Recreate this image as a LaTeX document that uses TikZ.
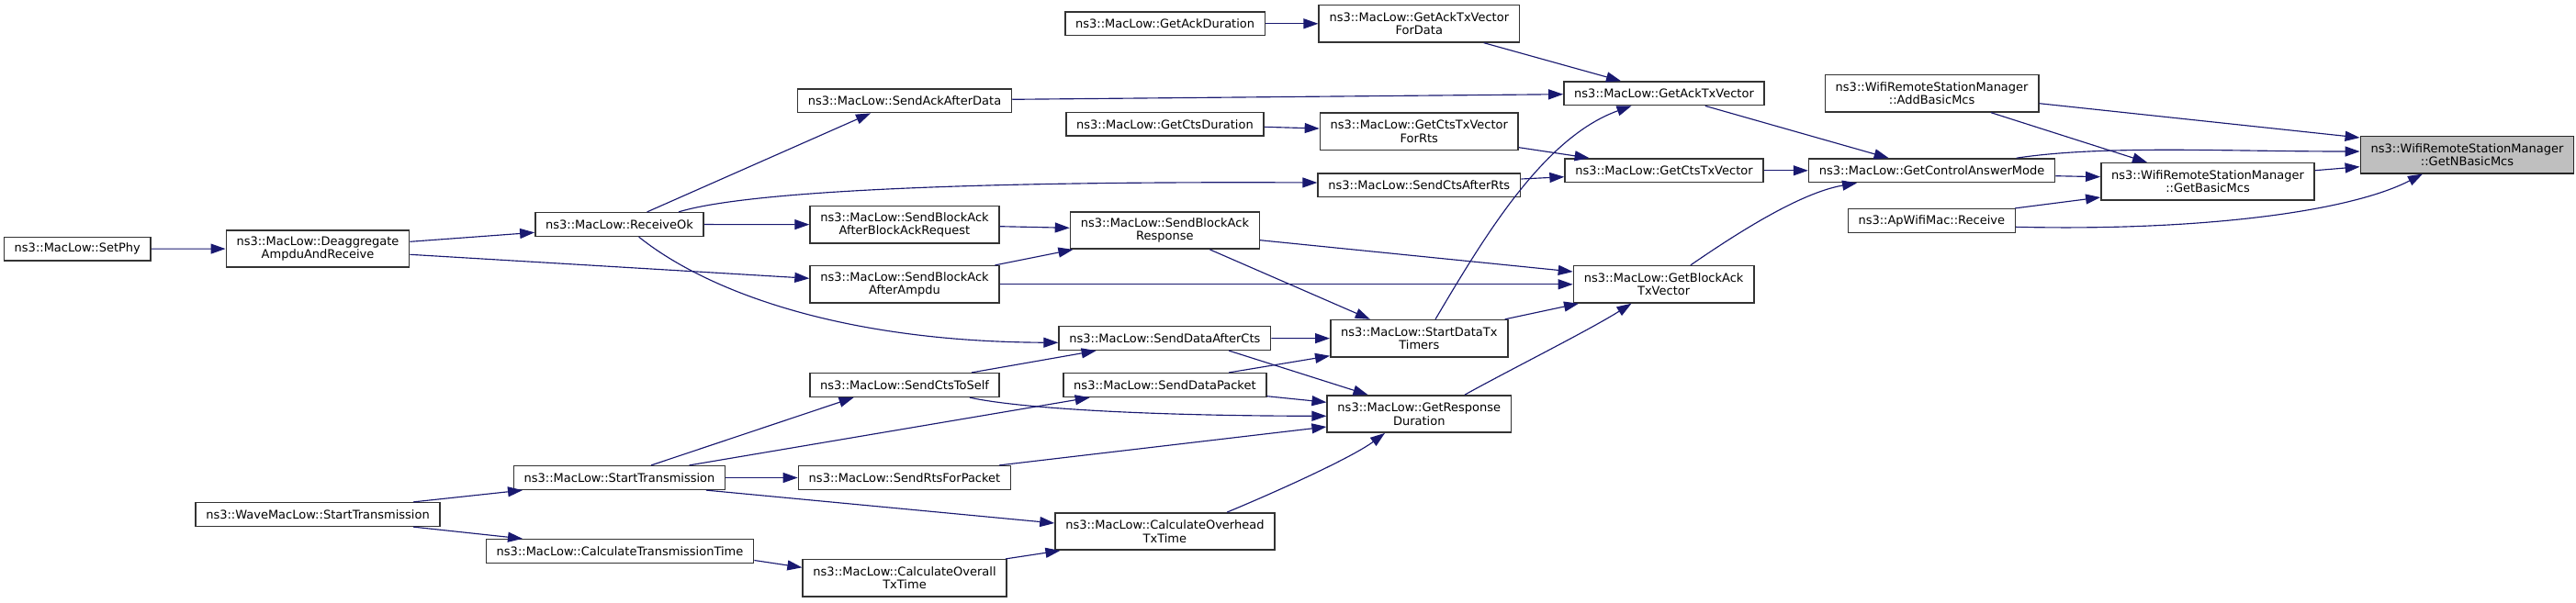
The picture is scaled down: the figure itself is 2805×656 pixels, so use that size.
\documentclass[tikz,border=0pt]{standalone}
\usepackage{fontspec}
\setmainfont{DejaVu Sans}
\usetikzlibrary{arrows.meta,calc}
\definecolor{bleunuit}{RGB}{25,25,112}
\begin{document}
\begin{tikzpicture}[x=0.02cm,y=-0.02cm]
\tikzstyle{fn} = [draw=black!80,line width=0.85pt,fill=white,inner xsep=0.226cm,inner ysep=0pt,minimum height=0.514cm,align=center,font=\fontsize{7.4}{8.3}\selectfont] %boite simple
\tikzstyle{fn2} = [fn,minimum height=0.806cm] %boite sur deux lignes
\tikzstyle{cible} = [fn2,fill=black!25,draw=black!85] %fonction appelee
\tikzstyle{appel} = [draw=bleunuit,line width=0.65pt,-{Triangle[length=0.32cm,width=0.22cm]}]

\useasboundingbox (0,0) rectangle (2805,656);

%fonctions
\draw(84.3,271.2)node[fn](setphy){ns3::MacLow::SetPhy};
\draw(346,271)node[fn2](deagg){ns3::MacLow::Deaggregate\\AmpduAndReceive};
\draw(346,560.5)node[fn](wave){ns3::WaveMacLow::StartTransmission};
\draw(674.5,244.5)node[fn](recv){ns3::MacLow::ReceiveOk};
\draw(674.5,520.5)node[fn](startt){ns3::MacLow::StartTransmission};
\draw(675,600.5)node[fn](calctt){ns3::MacLow::CalculateTransmissionTime};
\draw(1268.6,25.8)node[fn](ackdur){ns3::MacLow::GetAckDuration};
\draw(985,109.8)node[fn](saad){ns3::MacLow::SendAckAfterData};
\draw(1268.4,135.3)node[fn](ctsdur){ns3::MacLow::GetCtsDuration};
\draw(985,244.7)node[fn2](sbabar){ns3::MacLow::SendBlockAck\\AfterBlockAckRequest};
\draw(1268.4,251)node[fn2](sbar){ns3::MacLow::SendBlockAck\\Response};
\draw(985,309.8)node[fn2](sbaa){ns3::MacLow::SendBlockAck\\AfterAmpdu};
\draw(1268.4,368.5)node[fn](sdac){ns3::MacLow::SendDataAfterCts};
\draw(985,419.5)node[fn](scts){ns3::MacLow::SendCtsToSelf};
\draw(1268.4,419.5)node[fn](sdp){ns3::MacLow::SendDataPacket};
\draw(985,520.5)node[fn](srfp){ns3::MacLow::SendRtsForPacket};
\draw(1268.4,579)node[fn2](coh){ns3::MacLow::CalculateOverhead\\TxTime};
\draw(985,629.8)node[fn2](coa){ns3::MacLow::CalculateOverall\\TxTime};
\draw(1545.3,25.8)node[fn2](gatvfd){ns3::MacLow::GetAckTxVector\\ForData};
\draw(1812,101.8)node[fn](gatv){ns3::MacLow::GetAckTxVector};
\draw(1545.3,143.3)node[fn2](gctvfr){ns3::MacLow::GetCtsTxVector\\ForRts};
\draw(1545.3,201.8)node[fn](scar){ns3::MacLow::SendCtsAfterRts};
\draw(1545.3,368.7)node[fn2](sdtt){ns3::MacLow::StartDataTx\\Timers};
\draw(1545.3,451)node[fn2](grd){ns3::MacLow::GetResponse\\Duration};
\draw(1812,185.8)node[fn](gctv){ns3::MacLow::GetCtsTxVector};
\draw(1811.6,309.8)node[fn2](gbatv){ns3::MacLow::GetBlockAck\\TxVector};
\draw(2103.6,101.8)node[fn2](abm){ns3::WifiRemoteStationManager\\::AddBasicMcs};
\draw(2103.6,185.8)node[fn](gcam){ns3::MacLow::GetControlAnswerMode};
\draw(2103.3,240.5)node[fn](awr){ns3::ApWifiMac::Receive};
\draw(2404,197.8)node[fn2](gbm){ns3::WifiRemoteStationManager\\::GetBasicMcs};
\draw(2686.5,168.7)node[cible](gnbm){ns3::WifiRemoteStationManager\\::GetNBasicMcs};

%appels
\draw[appel] (setphy) -- (deagg);
\draw[appel] ($(deagg.east)+(0,-7.7)$) -- ($(recv.west)+(0,8.8)$);
\draw[appel] ($(deagg.east)+(0,6.3)$) -- ($(sbaa.west)+(0,-6.5)$);
\draw[appel] ($(recv.north)+(30.1,0)$) -- ($(saad.south)+(-37,0)$);
\draw[appel] ($(recv.north)+(64.5,0)$) .. controls (800,212) and (1000,197) .. ($(scar.west)+(0,-2.8)$);
\draw[appel] (recv) -- (sbabar);
\draw[appel] ($(recv.south)+(21.1,0)$) .. controls (760,310) and (900,372) .. ($(sdac.west)+(0,4.8)$);
\draw[appel] ($(wave.north)+(104,0)$) -- ($(startt.south)+(-105.5,0)$);
\draw[appel] ($(wave.south)+(104,0)$) -- ($(calctt.north)+(-106,0)$);
\draw[appel] ($(startt.north)+(34.5,0)$) -- ($(scts.south)+(-55.4,0)$);
\draw[appel] ($(startt.north)+(76,0)$) -- ($(sdp.south)+(-81.7,0)$);
\draw[appel] (startt) -- (srfp);
\draw[appel] ($(startt.south)+(94.4,0)$) -- ($(coh.west)+(0,-9)$);
\draw[appel] ($(calctt.east)+(0,10)$) -- ($(coa.west)+(0,-11.5)$);
\draw[appel] ($(coa.north)+(110,0)$) -- ($(coh.south)+(-114,0)$);
\draw[appel] ($(sbabar.east)+(0,2)$) -- ($(sbar.west)+(0,-2.7)$);
\draw[appel] ($(sbaa.north)+(98.4,0)$) -- ($(sbar.south)+(-100,0)$);
\draw[appel] (sbaa) -- (gbatv);
\draw[appel] ($(sbar.east)+(0,10.7)$) -- ($(gbatv.west)+(0,-13.8)$);
\draw[appel] ($(sbar.south)+(49,0)$) -- ($(sdtt.north)+(-53.5,0)$);
\draw[appel] ($(scts.north)+(73,0)$) -- ($(sdac.south)+(-74.8,0)$);
\draw[appel] ($(scts.south)+(70.8,0)$) .. controls (1110,445) and (1250,453) .. ($(grd.west)+(0,2.3)$);
\draw[appel] (sdac) -- (sdtt);
\draw[appel] ($(sdac.south)+(69.8,0)$) -- ($(grd.north)+(-55.8,0)$);
\draw[appel] ($(sdp.north)+(69.8,0)$) -- ($(sdtt.west)+(0,19)$);
\draw[appel] ($(sdp.east)+(0,12.2)$) -- ($(grd.west)+(0,-12.7)$);
\draw[appel] ($(srfp.north)+(103,0)$) -- ($(grd.west)+(0,14)$);
\draw[appel] ($(coh.north)+(67.6,0)$) .. controls (1380,540) and (1470,500) .. ($(grd.south)+(-37.3,0)$);
\draw[appel] ($(sdtt.north)+(17.7,0)$) .. controls (1615,260) and (1680,150) .. ($(gatv.south)+(-35.5,0)$);
\draw[appel] ($(sdtt.north)+(93.4,0)$) -- ($(gbatv.south)+(-92.6,0)$);
\draw[appel] ($(grd.north)+(49.7,0)$) .. controls (1640,405) and (1730,360) .. ($(gbatv.south)+(-35.1,0)$);
\draw[appel] ($(gatvfd.south)+(70.5,0)$) -- ($(gatv.north)+(-47,0)$);
\draw[appel] (ackdur) -- (gatvfd);
\draw[appel] ($(saad.east)+(0,-1.5)$) -- ($(gatv.west)+(0,0.9)$);
\draw[appel] ($(ctsdur.east)+(0,3)$) -- ($(gctvfr.west)+(0,-3.3)$);
\draw[appel] ($(gctvfr.east)+(0,17.4)$) -- ($(gctv.north)+(-81.4,0)$);
\draw[appel] ($(scar.east)+(0,-6.8)$) -- ($(gctv.west)+(0,6.9)$);
\draw[appel] ($(gatv.south)+(44.8,0)$) -- ($(gcam.north)+(-47,0)$);
\draw[appel] (gctv) -- (gcam);
\draw[appel] ($(gbatv.north)+(29.2,0)$) .. controls (1890,255) and (1960,210) .. ($(gcam.south)+(-81.6,0)$);
\draw[appel] ($(gcam.east)+(0,5.9)$) -- ($(gbm.west)+(0,-5.1)$);
\draw[appel] ($(gcam.north)+(92,0)$) .. controls (2290,158) and (2420,165) .. ($(gnbm.west)+(0,-3.7)$);
\draw[appel] ($(abm.east)+(0,10.9)$) -- ($(gnbm.west)+(0,-18.7)$);
\draw[appel] ($(abm.south)+(64.4,0)$) -- ($(gbm.north)+(-66,0)$);
\draw[appel] ($(gbm.east)+(0,-12.1)$) -- ($(gnbm.west)+(0,13)$);
\draw[appel] ($(awr.north east)+(-1,0)$) -- ($(gbm.west)+(0,17.2)$);
\draw[appel] ($(awr.east)+(0,6.8)$) .. controls (2400,252) and (2560,230) .. ($(gnbm.south)+(-48.6,0)$);
\end{tikzpicture}
\end{document}
